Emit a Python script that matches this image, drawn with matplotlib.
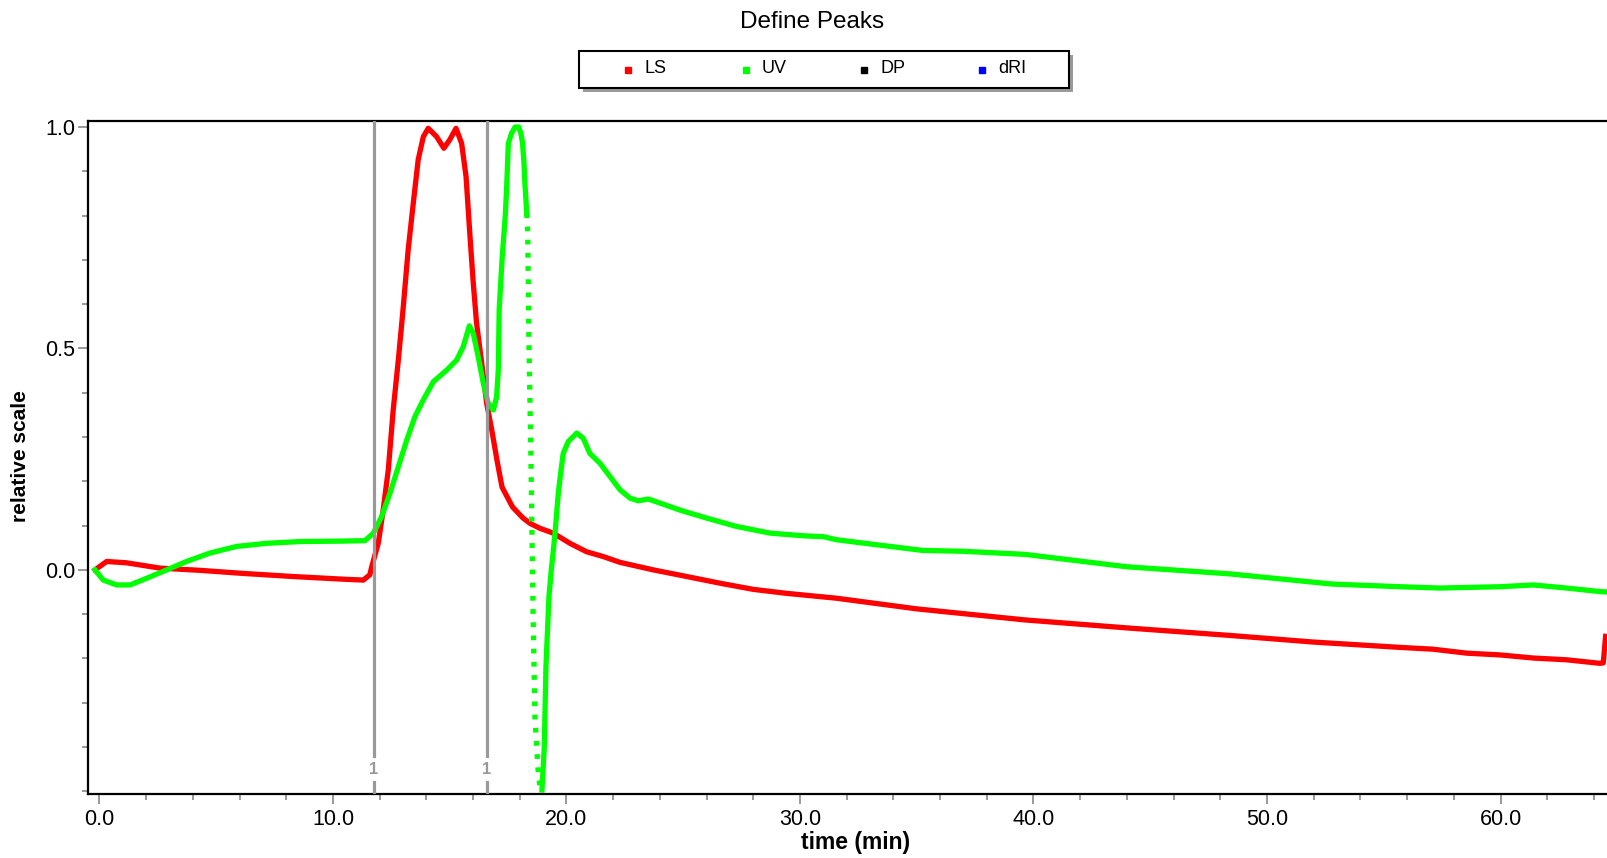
import matplotlib
matplotlib.use("Agg")
import matplotlib.pyplot as plt
from matplotlib.patches import Rectangle
from matplotlib.lines import Line2D
from matplotlib.ticker import MultipleLocator, FormatStrFormatter

plt.rcParams['font.family'] = ['Liberation Sans', 'DejaVu Sans']

# LS trace (time in min, relative scale)
ls_t = [-0.19, 0.31, 1.16, 2.59, 4.3, 6.16, 8.3, 10.44, 11.3, 11.58, 11.66, 11.94,
        12.15, 12.37, 12.58, 12.8, 13.0, 13.22, 13.44, 13.65, 13.87, 14.08, 14.44,
        14.75, 15.0, 15.27, 15.51, 15.7, 15.87, 16.01, 16.15, 16.37, 16.58, 16.8,
        17.03, 17.24, 17.69, 18.12, 18.44, 18.86, 19.43, 20.15, 20.86, 21.58, 22.29,
        23.72, 25.15, 26.57, 28.0, 29.43, 31.57, 35.0, 39.64, 44.0, 48.41, 52.0,
        55.7, 57.1, 58.55, 59.98, 61.4, 62.83, 64.26, 64.4, 64.5]
ls_y = [0.0, 0.019, 0.016, 0.004, -0.001, -0.008, -0.015, -0.021, -0.023, -0.011,
        0.007, 0.06, 0.135, 0.226, 0.361, 0.474, 0.587, 0.722, 0.828, 0.926, 0.978,
        0.997, 0.978, 0.952, 0.971, 0.997, 0.963, 0.888, 0.752, 0.647, 0.557, 0.467,
        0.377, 0.316, 0.246, 0.187, 0.142, 0.118, 0.105, 0.094, 0.083, 0.06, 0.041,
        0.03, 0.017, 0.0, -0.015, -0.03, -0.044, -0.053, -0.064, -0.088, -0.113,
        -0.131, -0.148, -0.163, -0.175, -0.179, -0.188, -0.192, -0.199, -0.203,
        -0.211, -0.21, -0.15]

# UV trace
uv_t = [-0.19, 0.16, 0.74, 1.31, 2.02, 2.88, 3.73, 4.73, 5.88, 7.16, 8.59, 10.44,
        11.37, 11.73, 12.08, 12.44, 12.8, 13.16, 13.51, 13.87, 14.3, 14.87, 15.3,
        15.58, 15.84, 16.01, 16.22, 16.44, 16.65, 16.87, 17.01, 17.08, 17.12, 17.25,
        17.38, 17.44, 17.51, 17.65, 17.8, 17.95, 18.05, 18.12, 18.18, 18.22, 18.3,
        18.34, 18.39, 18.48, 18.57, 18.65, 18.78, 18.87, 18.95, 19.05, 19.12, 19.25,
        19.35, 19.41, 19.51, 19.58, 19.65, 19.75, 19.86, 20.08, 20.44, 20.72, 21.0,
        21.43, 21.86, 22.29, 22.72, 23.07, 23.5, 24.0, 24.86, 26.0, 27.29, 28.72,
        30.14, 31.0, 31.57, 35.24, 37.0, 39.64, 44.0, 48.41, 52.79, 55.7, 57.41,
        59.98, 61.4, 62.83, 64.26, 64.6]
uv_y = [0.0, -0.023, -0.034, -0.034, -0.019, 0.0, 0.019, 0.038, 0.053, 0.06, 0.064,
        0.065, 0.066, 0.083, 0.12, 0.173, 0.233, 0.293, 0.346, 0.384, 0.425, 0.451,
        0.474, 0.504, 0.551, 0.534, 0.481, 0.421, 0.376, 0.361, 0.391, 0.451, 0.59,
        0.708, 0.8, 0.865, 0.963, 0.986, 1.0, 1.0, 0.985, 0.963, 0.918, 0.873, 0.805,
        0.76, 0.523, 0.246, -0.1, -0.333, -0.449, -0.494, -0.497, -0.4, -0.22, -0.06,
        0.0, 0.03, 0.083, 0.128, 0.173, 0.218, 0.263, 0.29, 0.309, 0.297, 0.263,
        0.241, 0.211, 0.181, 0.162, 0.156, 0.16, 0.151, 0.135, 0.117, 0.098, 0.083,
        0.077, 0.075, 0.068, 0.044, 0.042, 0.035, 0.007, -0.009, -0.032, -0.038,
        -0.041, -0.038, -0.034, -0.041, -0.049, -0.05]

peak_marks = [11.76, 16.6]
legend_names = ["LS", "UV", "DP", "dRI"]
legend_colors = ["#ff0000", "#00ff00", "#000000", "#0000ff"]

W, H = 1607, 858
fig = plt.figure(figsize=(W / 100, H / 100), dpi=100)
ax = fig.add_axes([88 / W, 64 / H, (W - 88) / W, 673 / H])

ax.plot(ls_t, ls_y, color="#ff0000", lw=3.8)

# the steep UV drop looks dotted in the original (sparse samples)
i0 = uv_t.index(18.3)
i1 = uv_t.index(18.95)
ax.plot(uv_t[:i0 + 1], uv_y[:i0 + 1], color="#00ff00", lw=3.8)
ax.plot(uv_t[i0:i1 + 1], uv_y[i0:i1 + 1], color="#00ff00", lw=3.8,
        linestyle=(0, (0.9, 1.6)))
ax.plot(uv_t[i1:], uv_y[i1:], color="#00ff00", lw=3.8)

ymin, ymax = -0.506, 1.0135
for x in peak_marks:
    ax.plot([x, x], [-0.42, ymax], color="#999999", lw=2.3, zorder=5)
    ax.plot([x, x], [-0.478, ymin], color="#999999", lw=2.3, zorder=5)
    ax.text(x, -0.45, "1", color="#999999", fontsize=12, ha="center", va="center",
            fontweight="bold")

ax.set_xlim(-0.49, 64.56)
ax.set_ylim(ymin, ymax)

ax.xaxis.set_major_locator(MultipleLocator(10))
ax.xaxis.set_minor_locator(MultipleLocator(2))
ax.set_yticks([0.0, 0.5, 1.0])
ax.yaxis.set_minor_locator(MultipleLocator(0.1))
ax.xaxis.set_major_formatter(FormatStrFormatter("%.1f"))
ax.yaxis.set_major_formatter(FormatStrFormatter("%.1f"))
ax.tick_params(which="major", length=7, width=1.2, color="#888888", labelsize=15.5)
ax.tick_params(axis="y", which="major", pad=2)
ax.tick_params(axis="x", which="major", pad=4)
ax.tick_params(which="minor", length=4.5, width=1.2, color="#888888")

ax.spines["right"].set_visible(False)
for s in ["left", "bottom", "top"]:
    ax.spines[s].set_linewidth(1.6)

fig.text(812 / W, 1 - 22.5 / H, "Define Peaks", fontsize=17.5, ha="center", va="center")
fig.text(856 / W, 1 - 842 / H, "time (min)", fontsize=16.5, fontweight="bold",
         ha="center", va="center")
fig.text(20.5 / W, 1 - 456 / H, "relative scale", fontsize=15, fontweight="bold",
         rotation=90, ha="center", va="center")

# legend box with drop shadow
bx, by, bw, bh = 579, 51, 490, 37
fig.add_artist(Rectangle(((bx + 4) / W, 1 - (by + bh + 4) / H), bw / W, bh / H,
                         transform=fig.transFigure, facecolor="#9a9a9a",
                         edgecolor="none"))
fig.add_artist(Rectangle((bx / W, 1 - (by + bh) / H), bw / W, bh / H,
                         transform=fig.transFigure, facecolor="white",
                         edgecolor="black", lw=1.5))
for k, (name, c) in enumerate(zip(legend_names, legend_colors)):
    mx = 628 + 118 * k
    fig.add_artist(Line2D([mx / W], [1 - 69.5 / H], marker="s", ms=4.2, color=c,
                          linestyle="none", transform=fig.transFigure))
    fig.text((mx + 16) / W, 1 - 68.5 / H, name, fontsize=13, ha="left", va="center")

fig.savefig("out.png", dpi=100)
